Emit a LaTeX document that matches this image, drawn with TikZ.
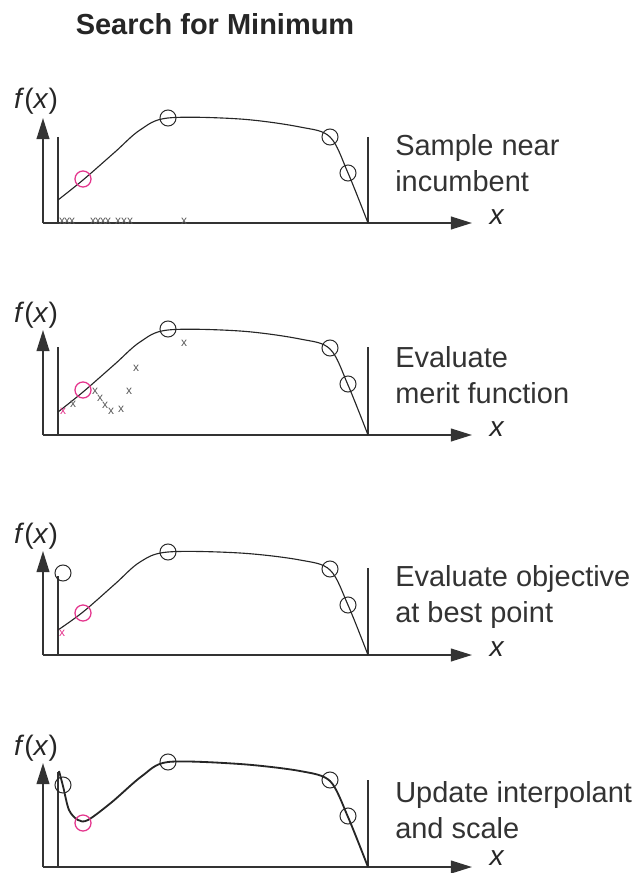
\documentclass[tikz,border=0pt]{standalone}
\usepackage{fontspec}
\setmainfont{Liberation Sans}
\usetikzlibrary{arrows.meta}

\definecolor{incpink}{RGB}{228,52,140}

\begin{document}
\begin{tikzpicture}[
  x=0.025cm,
  y=-0.025cm,
  axisgray/.style={draw=black!80},
  axis/.style={
    axisgray,
    line width=1.4pt,
    -{Triangle[length=15pt,width=9pt]}
  },
  wall/.style={axisgray, line width=1.1pt},
  fcurve/.style={draw=black!85, line width=0.8pt},
  sample/.style={
    circle,
    draw=black!85,
    line width=0.7pt,
    minimum size=11.4pt,
    inner sep=0pt
  },
  incumbent/.style={sample, draw=incpink, line width=0.9pt},
  trial/.style={
    text=black!65,
    inner sep=0pt,
    font=\fontsize{8.5}{8.5}\selectfont
  },
  besttrial/.style={trial, text=incpink},
  steptext/.style={
    text=black!80,
    anchor=north west,
    inner sep=0pt,
    align=left,
    font=\fontsize{20.6}{25.6}\selectfont
  },
  axislabel/.style={
    text=black!85,
    inner sep=0pt,
    font=\fontsize{20}{24}\selectfont
  }
]

% Canvas, same shape as the reference
\path[use as bounding box] (0,0) rectangle (635,873);

% Title
\node[text=black!85, font=\bfseries\fontsize{20.6}{24}\selectfont] (title) at (215,24)
  {Search for Minimum};

% Panel 1: sample near incumbent
\begin{scope}[name prefix=a-]
  \coordinate (o) at (43,223);
  \coordinate (ytip) at (43,118);
  \coordinate (xtip) at (472,223);
  \node[axislabel] (fx) at (36,101) {\textit{f}(\textit{x})};
  \node[axislabel] (x) at (497,217) {\textit{x}};
  \draw[axis] (o) -- (ytip);
  \draw[axis] (o) -- (xtip);
  \draw[wall] (58,137) -- (58,223);
  \draw[wall] (368,137) -- (368,223);
  \draw[fcurve] plot[smooth, tension=0.55] coordinates
    {(58,200) (83,180) (115,152) (140,130) (168,118) (240,119)
     (300,127) (330,137) (348,173) (368,223)};
  \node[incumbent] (inc) at (83,179) {};
  \node[sample] (s1) at (168,118) {};
  \node[sample] (s2) at (330,137) {};
  \node[sample] (s3) at (348,173) {};
  \foreach \px [count=\i] in {62,67,72,93,98,103,108,118,124,130,184}
    \node[trial] (t\i) at (\px,221) {x};
  \node[steptext] (lbl) at (395,134) {Sample near\\incumbent};
\end{scope}

% Panel 2: evaluate merit function
\begin{scope}[shift={(0,212)}, name prefix=b-]
  \coordinate (o) at (43,223);
  \coordinate (ytip) at (43,118);
  \coordinate (xtip) at (472,223);
  \node[axislabel] (fx) at (36,103) {\textit{f}(\textit{x})};
  \node[axislabel] (x) at (497,217) {\textit{x}};
  \draw[axis] (o) -- (ytip);
  \draw[axis] (o) -- (xtip);
  \draw[wall] (58,135) -- (58,223);
  \draw[wall] (368,135) -- (368,223);
  \draw[fcurve] plot[smooth, tension=0.55] coordinates
    {(58,200) (83,180) (115,152) (140,130) (168,118) (240,119)
     (300,127) (330,137) (348,173) (368,223)};
  \node[incumbent] (inc) at (83,178) {};
  \node[sample] (s1) at (168,117) {};
  \node[sample] (s2) at (330,136) {};
  \node[sample] (s3) at (348,172) {};
  \node[besttrial] (best) at (63,199) {x};
  \foreach \px/\py [count=\i] in {73/192, 95/179, 100/186, 105/193,
      111/199, 121/197, 129/179, 136/156, 184/131}
    \node[trial] (t\i) at (\px,\py) {x};
  \node[steptext] (lbl) at (395,134) {Evaluate\\merit function};
\end{scope}

% Panel 3: evaluate objective at best point
\begin{scope}[shift={(0,432)}, name prefix=c-]
  \coordinate (o) at (43,223);
  \coordinate (ytip) at (43,119);
  \coordinate (xtip) at (472,223);
  \node[axislabel] (fx) at (36,104) {\textit{f}(\textit{x})};
  \node[axislabel] (x) at (497,217) {\textit{x}};
  \draw[axis] (o) -- (ytip);
  \draw[axis] (o) -- (xtip);
  \draw[wall] (58,144) -- (58,223);
  \draw[wall] (368,136) -- (368,223);
  \draw[fcurve] plot[smooth, tension=0.55] coordinates
    {(58,198) (83,180) (115,152) (140,130) (168,120) (240,121)
     (300,128) (330,138) (348,173) (368,223)};
  \node[sample] (new) at (63,141) {};
  \node[incumbent] (inc) at (83,181) {};
  \node[sample] (s1) at (168,120) {};
  \node[sample] (s2) at (330,137) {};
  \node[sample] (s3) at (348,173) {};
  \node[besttrial] (best) at (62,201) {x};
  \node[steptext] (lbl) at (395,133) {Evaluate objective\\at best point};
\end{scope}

% Panel 4: update interpolant and scale
\begin{scope}[shift={(0,644)}, name prefix=d-]
  \coordinate (o) at (43,223);
  \coordinate (ytip) at (43,119);
  \coordinate (xtip) at (472,223);
  \node[axislabel] (fx) at (36,104) {\textit{f}(\textit{x})};
  \node[axislabel] (x) at (497,214) {\textit{x}};
  \draw[axis] (o) -- (ytip);
  \draw[axis] (o) -- (xtip);
  \draw[wall] (58,128) -- (58,223);
  \draw[wall] (368,136) -- (368,223);
  \draw[fcurve, line width=1.3pt] plot[smooth, tension=0.5] coordinates
    {(59,127) (63,142) (69,166) (78,176) (88,176) (112,158) (142,132)
     (168,118) (240,120) (300,127) (330,137) (348,173) (368,223)};
  \node[sample] (new) at (63,141) {};
  \node[incumbent] (inc) at (83,179) {};
  \node[sample] (s1) at (168,118) {};
  \node[sample] (s2) at (330,136) {};
  \node[sample] (s3) at (348,172) {};
  \node[steptext] (lbl) at (395,137) {Update interpolant\\and scale};
\end{scope}

\end{tikzpicture}
\end{document}
